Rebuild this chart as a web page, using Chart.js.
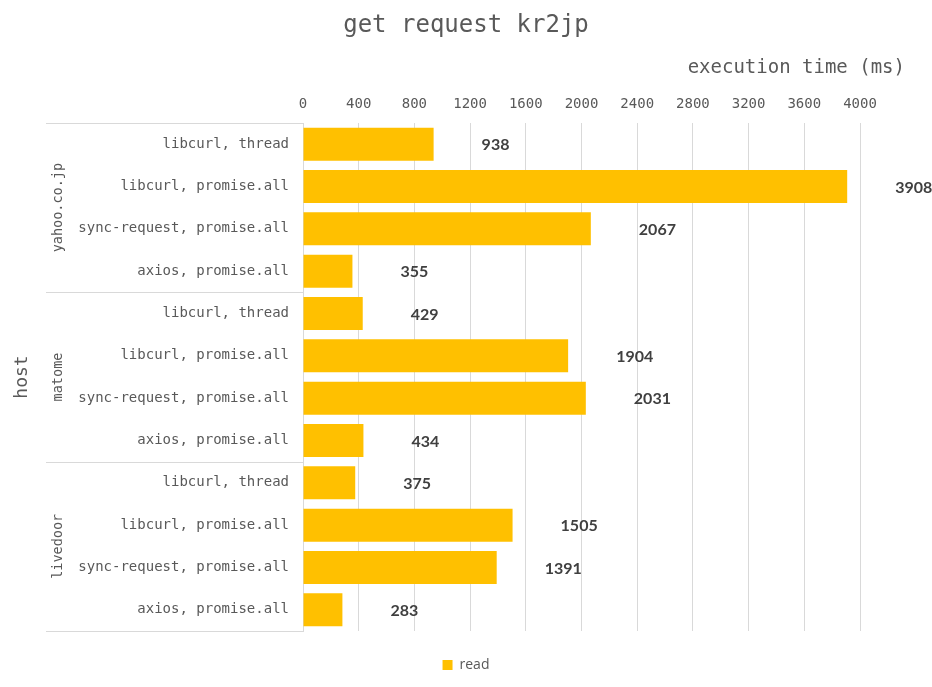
<!DOCTYPE html>
<html>
<head>
<meta charset="utf-8">
<script src="https://cdn.jsdelivr.net/npm/chart.js@4/dist/chart.umd.min.js"></script>
<style>
html,body{margin:0;padding:0;background:#ffffff;}
#wrap{width:932px;height:687px;}
</style>
</head>
<body>
<div id="wrap"><canvas id="c" width="932" height="687"></canvas></div>
<script>
// ---- data ----
const chartTitle = 'get request kr2jp';
const xAxisTitle = 'execution time (ms)';
const yAxisTitle = 'host';
const groups = ['yahoo.co.jp', 'matome', 'livedoor'];
const methods = ['libcurl, thread', 'libcurl, promise.all', 'sync-request, promise.all', 'axios, promise.all'];
const categories = [
  'libcurl, thread', 'libcurl, promise.all', 'sync-request, promise.all', 'axios, promise.all',
  'libcurl, thread', 'libcurl, promise.all', 'sync-request, promise.all', 'axios, promise.all',
  'libcurl, thread', 'libcurl, promise.all', 'sync-request, promise.all', 'axios, promise.all'
];
const seriesName = 'read';
const readValues = [938, 3908, 2067, 355, 429, 1904, 2031, 434, 375, 1505, 1391, 283];
const xTickValues = [0, 400, 800, 1200, 1600, 2000, 2400, 2800, 3200, 3600, 4000];

// ---- styles ----
const MONO = '"DejaVu Sans Mono", "Liberation Mono", monospace';
const TEXT = '#595959';
const GRID = '#d9d9d9';
const BAR = '#FFC000';

const overlay = {
  id: 'overlay',
  afterDraw(chart) {
    const ctx = chart.ctx;
    const area = chart.chartArea;
    const y = chart.scales.y;
    ctx.save();
    // axis title (x)
    ctx.fillStyle = TEXT;
    ctx.font = '19px ' + MONO;
    ctx.textAlign = 'right';
    ctx.textBaseline = 'middle';
    ctx.fillText(xAxisTitle, 905, 68);
    // group separators
    ctx.strokeStyle = GRID;
    ctx.lineWidth = 1;
    const per = methods.length;
    const step = (y.getPixelForTick(1) - y.getPixelForTick(0));
    const bounds = [];
    for (let g = 0; g <= groups.length; g++) {
      let py;
      if (g === 0) py = area.top;
      else if (g === groups.length) py = area.bottom;
      else py = y.getPixelForTick(g * per) - step / 2;
      bounds.push(py);
      ctx.beginPath();
      ctx.moveTo(46, Math.round(py) + 0.5);
      ctx.lineTo(area.left, Math.round(py) + 0.5);
      ctx.stroke();
    }
    // group labels
    ctx.fillStyle = TEXT;
    ctx.font = '13.5px ' + MONO;
    ctx.textAlign = 'center';
    ctx.textBaseline = 'middle';
    for (let g = 0; g < groups.length; g++) {
      const cy = (bounds[g] + bounds[g + 1]) / 2;
      ctx.save();
      ctx.translate(58, cy);
      ctx.rotate(-Math.PI / 2);
      ctx.fillText(groups[g], 0, 0);
      ctx.restore();
    }
    // y axis title
    ctx.font = '18px ' + MONO;
    ctx.save();
    ctx.translate(22, (area.top + area.bottom) / 2);
    ctx.rotate(-Math.PI / 2);
    ctx.fillText(yAxisTitle, 0, 0);
    ctx.restore();
    // data labels
    const meta = chart.getDatasetMeta(0);
    ctx.fillStyle = '#404040';
    ctx.font = 'bold 16px Lato, "Open Sans", sans-serif';
    ctx.textAlign = 'left';
    ctx.textBaseline = 'middle';
    meta.data.forEach((bar, i) => {
      ctx.fillText(String(readValues[i]), bar.x + 48, bar.y + 1);
    });
    ctx.restore();
  }
};

new Chart(document.getElementById('c'), {
  type: 'bar',
  data: {
    labels: categories,
    datasets: [{
      label: seriesName,
      data: readValues,
      backgroundColor: BAR,
      borderWidth: 0,
      barPercentage: 0.78,
      categoryPercentage: 1.0,
      yAxisID: 'y'
    }]
  },
  options: {
    indexAxis: 'y',
    responsive: false,
    animation: false,
    devicePixelRatio: 1,
    layout: { padding: { top: 0, right: 0, bottom: 5, left: 0 } },
    plugins: {
      title: {
        display: true,
        text: chartTitle,
        color: TEXT,
        font: { family: MONO, size: 24, weight: 'normal' },
        padding: { top: 11, bottom: 0 }
      },
      legend: {
        display: true,
        position: 'bottom',
        labels: {
          boxWidth: 10,
          boxHeight: 10,
          padding: 27,
          color: TEXT,
          font: { family: '"Open Sans", "Noto Sans", sans-serif', size: 14 }
        }
      },
      tooltip: { enabled: false }
    },
    scales: {
      x: {
        position: 'top',
        min: 0,
        max: 4000,
        afterBuildTicks(scale) { scale.ticks = xTickValues.map(v => ({ value: v })); },
        ticks: {
          color: TEXT,
          font: { family: MONO, size: 14 },
          padding: 10,
          maxRotation: 0,
          callback: (v) => String(v)
        },
        grid: { color: GRID, drawTicks: false, lineWidth: 1 },
        border: { display: false },
        afterFit(scale) { scale.height = 123 - 39.8; }
      },
      y: {
        type: 'category',
        position: 'left',
        ticks: {
          color: TEXT,
          font: { family: MONO, size: 14 },
          padding: 14,
          autoSkip: false
        },
        grid: { display: false, drawTicks: false },
        border: { display: true, color: GRID, width: 1 },
        afterFit(scale) { scale.width = 303; }
      },
      yRight: {
        type: 'category',
        position: 'right',
        display: true,
        ticks: { display: false },
        grid: { display: false, drawTicks: false },
        border: { display: false },
        afterFit(scale) { scale.width = 72; }
      }
    }
  },
  plugins: [overlay]
});
</script>
</body>
</html>
